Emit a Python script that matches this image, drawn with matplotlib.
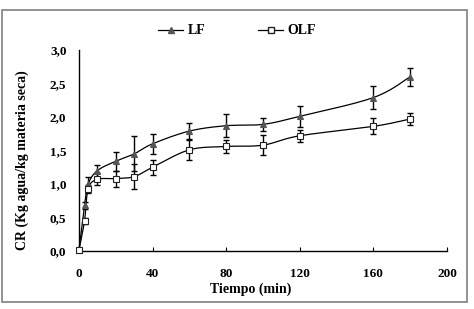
import numpy as np
import matplotlib
matplotlib.use("Agg")
import matplotlib.pyplot as plt
from matplotlib.patches import Rectangle
from matplotlib.lines import Line2D

# ---- data ----
tiempo = [0, 3, 5, 10, 20, 30, 40, 60, 80, 100, 120, 160, 180]
lf = [0.02, 0.68, 1.00, 1.20, 1.34, 1.45, 1.60, 1.79, 1.87, 1.89, 2.01, 2.29, 2.60]
lf_err = [0.0, 0.05, 0.10, 0.09, 0.14, 0.26, 0.15, 0.12, 0.17, 0.10, 0.16, 0.17, 0.13]
olf = [0.02, 0.45, 0.93, 1.07, 1.08, 1.11, 1.25, 1.51, 1.56, 1.58, 1.72, 1.86, 1.97]
olf_err = [0.0, 0.04, 0.06, 0.09, 0.12, 0.19, 0.11, 0.15, 0.10, 0.15, 0.09, 0.12, 0.09]
x_ticks = [0, 40, 80, 120, 160, 200]
y_ticks = [0.0, 0.5, 1.0, 1.5, 2.0, 2.5, 3.0]
y_ticklabels = ["0,0", "0,5", "1,0", "1,5", "2,0", "2,5", "3,0"]

plt.rcParams['font.family'] = ['Liberation Serif', 'DejaVu Serif']
plt.rcParams['font.weight'] = 'bold'


def smooth(x, y, n=30):
    """Catmull-Rom (Excel-like) smoothing through the data points."""
    x = np.asarray(x, float); y = np.asarray(y, float)
    px = np.concatenate([[x[0]], x, [x[-1]]])
    py = np.concatenate([[y[0]], y, [y[-1]]])
    xs, ys = [], []
    for i in range(1, len(px) - 2):
        p0x, p1x, p2x, p3x = px[i-1], px[i], px[i+1], px[i+2]
        p0y, p1y, p2y, p3y = py[i-1], py[i], py[i+1], py[i+2]
        t = np.linspace(0, 1, n)
        c1x = p1x + (p2x - p0x) / 6; c1y = p1y + (p2y - p0y) / 6
        c2x = p2x - (p3x - p1x) / 6; c2y = p2y - (p3y - p1y) / 6
        bx = (1-t)**3*p1x + 3*(1-t)**2*t*c1x + 3*(1-t)*t**2*c2x + t**3*p2x
        by = (1-t)**3*p1y + 3*(1-t)**2*t*c1y + 3*(1-t)*t**2*c2y + t**3*p2y
        xs.append(bx); ys.append(by)
    return np.concatenate(xs), np.concatenate(ys)


fig = plt.figure(figsize=(4.74, 3.09), dpi=100)
fig.patches.append(Rectangle((2/474, 7/309), 465/474, 292/309, transform=fig.transFigure,
                             fill=False, edgecolor='#808080', linewidth=1.2))

ax = fig.add_axes([79/474, 58/309, 368/474, 201/309])

for ys, errs, mk, fc, ec, ms in [(lf, lf_err, '^', '#555555', '#555555', 4.8),
                                 (olf, olf_err, 's', 'white', '#222222', 4.6)]:
    sx, sy = smooth(tiempo, ys)
    ax.plot(sx, sy, color='black', lw=0.9, zorder=2, clip_on=False)
    ax.errorbar(tiempo, ys, yerr=errs, fmt='none', ecolor='black', elinewidth=1.0,
                capsize=2.5, capthick=1.0, zorder=3)
    ax.plot(tiempo, ys, linestyle='none', marker=mk, markersize=ms, markerfacecolor=fc,
            markeredgecolor=ec, markeredgewidth=0.8, zorder=4, clip_on=False)

ax.set_xlim(0, 200)
ax.set_ylim(0, 3.0)
ax.set_xticks(x_ticks)
ax.set_xticklabels([str(v) for v in x_ticks])
ax.set_yticks(y_ticks)
ax.set_yticklabels(y_ticklabels)
for s in ['top', 'right']:
    ax.spines[s].set_visible(False)
for s in ['left', 'bottom']:
    ax.spines[s].set_linewidth(1.0)
ax.tick_params(axis='x', direction='in', length=3, pad=12, labelsize=9.5)
ax.tick_params(axis='y', length=0, pad=9, labelsize=9.5)
for lab in ax.get_xticklabels() + ax.get_yticklabels():
    lab.set_fontweight('bold')

ax.set_xlabel('Tiempo (min)', fontsize=10, fontweight='bold')
ax.set_ylabel('CR (Kg agua/kg materia seca)', fontsize=10, fontweight='bold')
ax.xaxis.set_label_coords(0.467, -0.155)
ax.yaxis.set_label_coords(-0.137, 0.453)

handles = [Line2D([], [], color='black', lw=0.9, marker='^', markersize=4.5,
                  markerfacecolor='#555555', markeredgecolor='#555555'),
           Line2D([], [], color='black', lw=0.9, marker='s', markersize=4.5,
                  markerfacecolor='white', markeredgecolor='#222222')]
fig.legend(handles, ['LF', 'OLF'], loc='center', bbox_to_anchor=(0.5, 0.9), ncol=2,
           frameon=False, handlelength=1.8, handletextpad=0.3, columnspacing=3.8,
           prop={'family': 'Liberation Serif', 'weight': 'bold', 'size': 10})

fig.savefig('out.png', dpi=100)
